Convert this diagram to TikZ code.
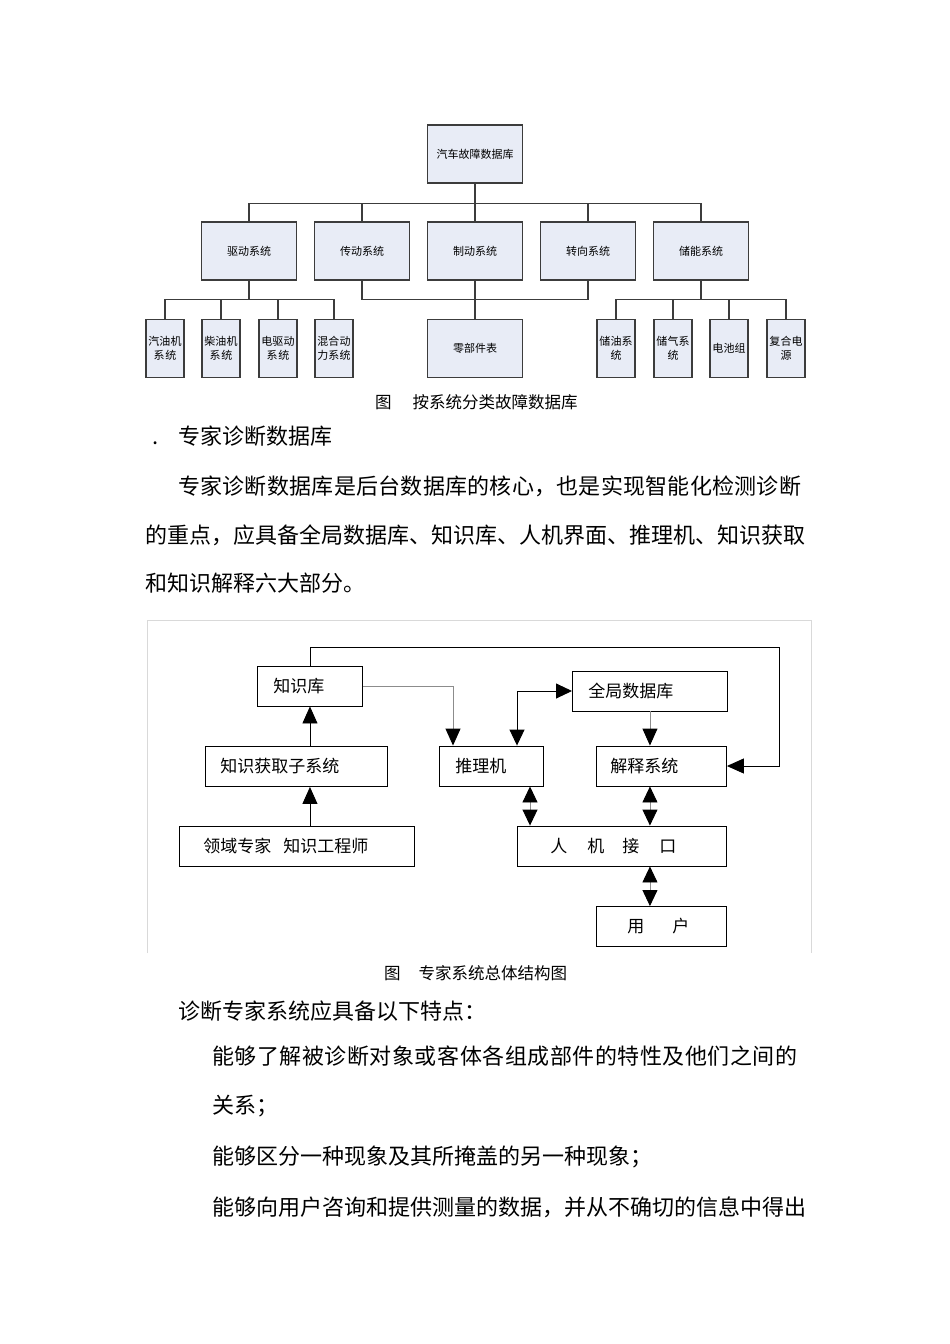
\documentclass[tikz,border=0pt]{standalone}
\usepackage{fontspec}
\setmainfont{Noto Sans CJK SC}
\usetikzlibrary{arrows.meta}
\XeTeXlinebreaklocale "zh"
\XeTeXlinebreakskip=0pt plus 3pt minus 1pt

\definecolor{boxFill}{HTML}{E8ECF6}
\definecolor{boxLine}{HTML}{3C3C3C}
\definecolor{frameGray}{HTML}{D9D9D9}

\begin{document}
\begin{tikzpicture}
[x=1pt,y=-1pt,
 boxDecorate/.style={shape=rectangle,draw=boxLine,line width=1.1pt,fill=boxFill,
   minimum width=95pt,minimum height=58pt,inner sep=1pt,font=\fontsize{11}{14}\selectfont},
 smallDecorate/.style={boxDecorate,minimum width=38pt,text width=36pt,align=center},
 lineDecorate/.style={-,draw=boxLine,line width=1.1pt},
 blockDecorate/.style={shape=rectangle,draw,line width=0.9pt,anchor=west,
   minimum height=40pt,inner ysep=0pt,align=left,font=\fontsize{17}{20}\selectfont},
 arrowDecorate/.style={-{Triangle[length=17pt,width=15pt,color=black]},line width=0.9pt},
 grayArrow/.style={arrowDecorate,draw=black!45},
 bothArrow/.style={{Triangle[length=16pt,width=15pt,color=black]}-{Triangle[length=16pt,width=15pt,color=black]},
   line width=0.9pt,draw=black!45},
 textDecorate/.style={anchor=west,inner sep=0pt,font=\fontsize{22}{26}\selectfont},
 fullLine/.style={textDecorate,text width=#1,execute at begin node={\parfillskip=0pt\relax}},
 captionDecorate/.style={anchor=west,inner sep=0pt,font=\fontsize{16.5}{20}\selectfont}]
\fill[white] (0,0) rectangle (950,1344);
\useasboundingbox (0,0) rectangle (950,1344);

%% first figure: fault database by system
\node (root) at (475,154) [boxDecorate] {汽车故障数据库};
\foreach \nodename/\x/\txt in {
  qd/249/驱动系统, cd/362/传动系统, zd/475/制动系统, zx/588/转向系统, cn/701/储能系统}
{
  \node (\nodename) at (\x,251) [boxDecorate] {\txt};
  \draw[lineDecorate] (root.south) -- ++(0,20) -| (\nodename.north);
}
\foreach \nodename/\x/\txt in {
  qy/165/{汽油机\\系统}, cy/221/{柴油机\\系统}, dq/278/{电驱动\\系统}, hh/334/{混合动\\力系统}}
{
  \node (\nodename) at (\x,348.5) [smallDecorate] {\txt};
  \draw[lineDecorate] (qd.south) -- ++(0,19) -| (\nodename.north);
}
\foreach \nodename/\x/\txt in {
  cy2/616/{储油系\\统}, cq/673/{储气系\\统}, dc/729/{电池组}, fh/786/{复合电\\源}}
{
  \node (\nodename) at (\x,348.5) [smallDecorate] {\txt};
  \draw[lineDecorate] (cn.south) -- ++(0,19) -| (\nodename.north);
}
\node (lb) at (475,348.5) [boxDecorate] {零部件表};
\draw[lineDecorate] (cd.south) -- ++(0,19) -| (zx.south);
\draw[lineDecorate] (zd.south) -- (lb.north);
\node (cap1) at (375,402) [captionDecorate] {图\hspace{21pt}按系统分类故障数据库};

%% text between the figures
\node (secTitle) at (152,436) [textDecorate] {\makebox[26pt][l]{.}专家诊断数据库};
\node (para1) at (178,486) [fullLine=627pt] {专家诊断数据库是后台数据库的核心，也是实现智能化检测诊断};
\node (para2) at (145,535) [fullLine=661pt] {的重点，应具备全局数据库、知识库、人机界面、推理机、知识获取};
\node (para3) at (145,583) [textDecorate] {和知识解释六大部分。};

%% second figure: expert system structure
\draw[frameGray,line width=1pt] (147,953) -- (147,620) -- (811,620) -- (811,953);
\node (zsk) at (257,686) [blockDecorate,text width=73pt,inner xsep=16pt] {知识库};
\node (hqz) at (205,766.5) [blockDecorate,text width=152pt,inner xsep=15pt] {知识获取子系统};
\node (lyz) at (179,846.5) [blockDecorate,text width=187pt,inner xsep=24pt] {领域专家\hspace{12pt}知识工程师};
\node (tlj) at (439,766) [blockDecorate,text width=72pt,inner xsep=16pt] {推理机};
\node (qjs) at (572,691) [blockDecorate,text width=123pt,inner xsep=16pt] {全局数据库};
\node (jsx) at (596,766) [blockDecorate,text width=102pt,inner xsep=14pt] {解释系统};
\node (rjk) at (517,846) [blockDecorate,text width=143pt,inner xsep=33pt] {人\hspace{20pt}机\hspace{18pt}接\hspace{20pt}口};
\node (yh) at (596,926.5) [blockDecorate,text width=68pt,inner xsep=31pt] {用\hspace{28pt}户};
\coordinate (loopCorner) at (779,647);
\coordinate (tljIn) at ([xshift=14pt]tlj.north west);
\coordinate (tljOut) at ([xshift=78pt]tlj.north west);
\coordinate (rjkIn) at ([xshift=13pt]rjk.north west);

\draw[arrowDecorate] (zsk.north) |- (loopCorner) |- (jsx.east);
\draw[grayArrow] (zsk.east) -| (tljIn);
\draw[bothArrow,draw=black] (tljOut) |- (qjs.west);
\draw[grayArrow] (qjs.south) -- (qjs.south |- jsx.north);
\draw[arrowDecorate] (hqz.north -| zsk.south) -- (zsk.south);
\draw[arrowDecorate] (lyz.north -| zsk.south) -- (hqz.south -| zsk.south);
\draw[bothArrow] (rjkIn) -- (rjkIn |- tlj.south);
\draw[bothArrow] (jsx.south -| qjs.south) -- (rjk.north -| qjs.south);
\draw[bothArrow] (rjk.south -| qjs.south) -- (yh.north -| qjs.south);
\node (cap2) at (384,973) [captionDecorate] {图\hspace{18pt}专家系统总体结构图};

%% text after the figures
\node (feat0) at (178,1011) [textDecorate] {诊断专家系统应具备以下特点：};
\node (feat1) at (212,1056) [fullLine=593pt] {能够了解被诊断对象或客体各组成部件的特性及他们之间的};
\node (feat2) at (212,1106) [textDecorate] {关系；};
\node (feat3) at (212,1157) [textDecorate] {能够区分一种现象及其所掩盖的另一种现象；};
\node (feat4) at (212,1207) [fullLine=594pt] {能够向用户咨询和提供测量的数据，并从不确切的信息中得出};
\end{tikzpicture}
\end{document}
